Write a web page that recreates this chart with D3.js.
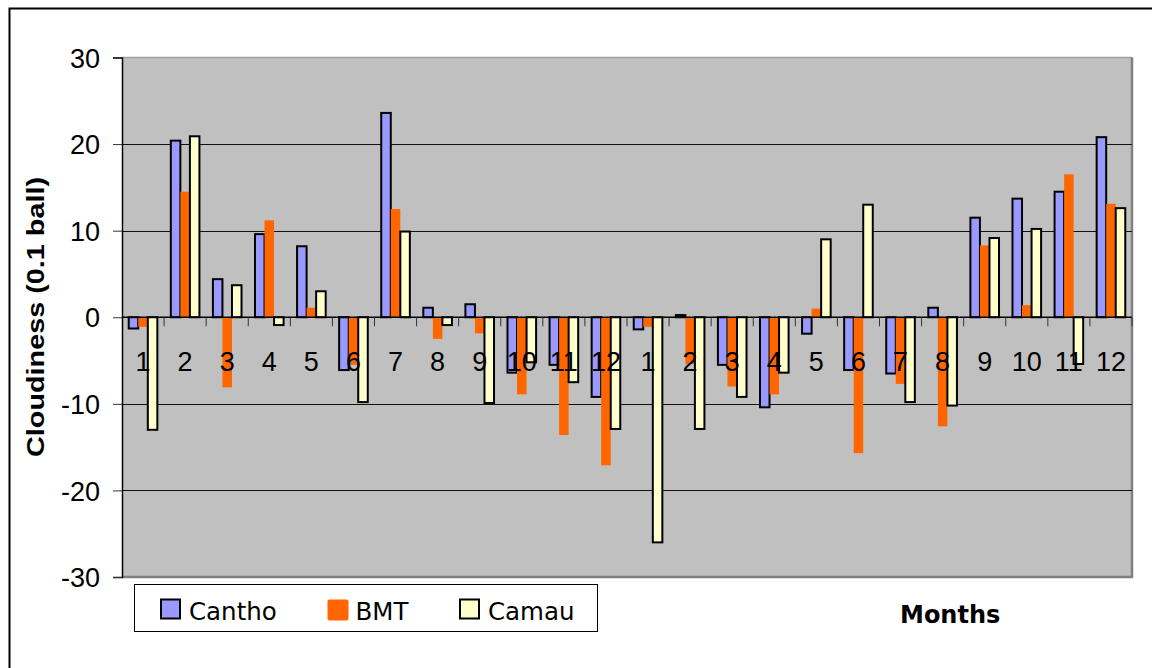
<!DOCTYPE html>
<html><head><meta charset="utf-8">
<script src="https://cdn.jsdelivr.net/npm/d3@7"></script>
<style>
body{margin:0;background:#fff} svg{display:block}
.ar{font-family:"Liberation Sans",Arimo,Arial,Helvetica,sans-serif}
.dv{font-family:"DejaVu Sans",Verdana,sans-serif}
</style>
</head><body><svg id="c" width="1152" height="668"></svg>
<script>
const categories = ["1","2","3","4","5","6","7","8","9","10","11","12","1","2","3","4","5","6","7","8","9","10","11","12"];
const seriesNames = ["Cantho","BMT","Camau"];
const cantho = [-1.3, 20.4, 4.4, 9.6, 8.2, -6.1, 23.6, 1.1, 1.5, -6.4, -5.5, -9.2, -1.4, 0.25, -5.5, -10.4, -1.9, -6.1, -6.5, 1.1, 11.5, 13.7, 14.5, 20.8];
const bmt = [-1.1, 14.5, -8.1, 11.2, 1.1, -5.5, 12.5, -2.5, -1.85, -8.9, -13.6, -17.1, -1.1, -5.4, -8.0, -8.9, 1.0, -15.7, -7.7, -12.6, 8.3, 1.4, 16.5, 13.1];
const camau = [-13.0, 20.9, 3.7, -0.9, 3.0, -9.8, 9.9, -0.9, -9.9, -5.2, -7.5, -12.9, -26.0, -12.9, -9.2, -6.4, 9.0, 13.0, -9.8, -10.2, 9.15, 10.2, -5.4, 12.6];
const yTicks = [-30, -20, -10, 0, 10, 20, 30];
const colors = ["#9999FF", "#FF6600", "#FFFFCC"];
const yTitle = "Cloudiness (0.1 ball)";
const xTitle = "Months";

const seriesValues = [cantho, bmt, camau];
const svg = d3.select("#c");
const P = {left: 122, right: 1132, top: 57.5, bottom: 577};

const x = d3.scaleBand().domain(d3.range(categories.length)).range([P.left, P.right]).padding(0);
const y = d3.scaleLinear().domain([-30, 30]).range([P.bottom, P.top]);
const pad = x.bandwidth() * 0.16;
const xs = d3.scaleBand().domain(seriesNames).range([pad, x.bandwidth() - pad]).padding(0);

// outer frame
svg.append("rect").attr("x", 9.5).attr("y", 8.5).attr("width", 1200).attr("height", 700)
  .attr("fill", "#fff").attr("stroke", "#000").attr("stroke-width", 2);

// plot background
svg.append("rect").attr("x", P.left).attr("y", P.top).attr("width", P.right - P.left).attr("height", P.bottom - P.top)
  .attr("fill", "#C0C0C0");
svg.append("line").attr("x1", P.left).attr("x2", P.right).attr("y1", P.top).attr("y2", P.top)
  .attr("stroke", "#a0a0a0").attr("stroke-width", 1.5);
svg.append("path").attr("d", `M${P.right},${P.top}V${P.bottom}H${P.left}`)
  .attr("fill", "none").attr("stroke", "#808080").attr("stroke-width", 2.5);

// gridlines
svg.append("g").selectAll("line").data(yTicks.filter(t => t !== 0 && Math.abs(t) !== 30)).join("line")
  .attr("x1", P.left).attr("x2", P.right)
  .attr("y1", d => Math.round(y(d)) + 0.5).attr("y2", d => Math.round(y(d)) + 0.5)
  .attr("stroke", "#111").attr("stroke-width", 1);

// bars
seriesNames.forEach((s, si) => {
  svg.append("g").selectAll("rect").data(seriesValues[si]).join("rect")
    .attr("x", (d, i) => x(i) + xs(s))
    .attr("width", xs.bandwidth())
    .attr("y", d => y(Math.max(0, d)))
    .attr("height", d => Math.abs(y(d) - y(0)))
    .attr("fill", colors[si])
    .attr("stroke", si === 1 ? "none" : "#000")
    .attr("stroke-width", si === 1 ? 0 : 2);
});

// x axis at zero
const gx = svg.append("g").attr("transform", `translate(0,${y(0)})`);
gx.append("line").attr("x1", P.left).attr("x2", P.right).attr("y1", 0).attr("y2", 0).attr("stroke", "#000").attr("stroke-width", 1.5);
gx.selectAll("line.tk").data(d3.range(1, categories.length + 1)).join("line").attr("class", "tk")
  .attr("x1", d => x(d - 1) + x.bandwidth()).attr("x2", d => x(d - 1) + x.bandwidth())
  .attr("y1", 0).attr("y2", 9).attr("stroke", "#333").attr("stroke-width", 1);

// x labels
svg.append("g").selectAll("text").data(categories).join("text")
  .attr("class", "ar")
  .attr("x", (d, i) => x(i) + x.bandwidth() / 2)
  .attr("y", y(0) + 54)
  .attr("text-anchor", "middle")
  .attr("font-size", 27)
  .attr("fill", "#000")
  .text(d => d);

// y axis
const yAxis = d3.axisLeft(y).tickValues(yTicks).tickSize(9).tickFormat(d => String(d));
const gy = svg.append("g").attr("transform", `translate(${P.left},0)`).call(yAxis);
gy.attr("font-family", null);
gy.select(".domain").attr("stroke", "#000").attr("stroke-width", 1.5);
gy.selectAll(".tick line").attr("stroke", "#333");
gy.selectAll(".tick text").attr("class", "ar")
  .attr("font-size", 27).attr("fill", "#000").attr("x", -22).attr("dy", "0.36em");

// y title
svg.append("text").attr("class", "ar").attr("transform", "translate(44,317) rotate(-90)")
  .attr("text-anchor", "middle")
  .attr("font-weight", "bold").attr("font-size", 24)
  .attr("textLength", 280).attr("lengthAdjust", "spacingAndGlyphs")
  .text(yTitle);

// x title
svg.append("text").attr("class", "dv").attr("x", 900).attr("y", 623)
  .attr("font-weight", "bold").attr("font-size", 24)
  .text(xTitle);

// legend
const lg = svg.append("g");
lg.append("rect").attr("x", 134.5).attr("y", 584.5).attr("width", 463).attr("height", 47)
  .attr("fill", "#fff").attr("stroke", "#000").attr("stroke-width", 1);
const legX = [161, 327.5, 460];
seriesNames.forEach((s, si) => {
  lg.append("rect").attr("x", legX[si]).attr("y", 599.5).attr("width", si === 1 ? 21 : 19).attr("height", si === 1 ? 21 : 19)
    .attr("rx", si === 1 ? 2 : 0)
    .attr("fill", colors[si]).attr("stroke", si === 1 ? "none" : "#000").attr("stroke-width", 2);
  lg.append("text").attr("class", "dv").attr("x", legX[si] + 28).attr("y", 620)
    .attr("font-size", 24.5)
    .attr("fill", "#000").text(s);
});
</script></body></html>
